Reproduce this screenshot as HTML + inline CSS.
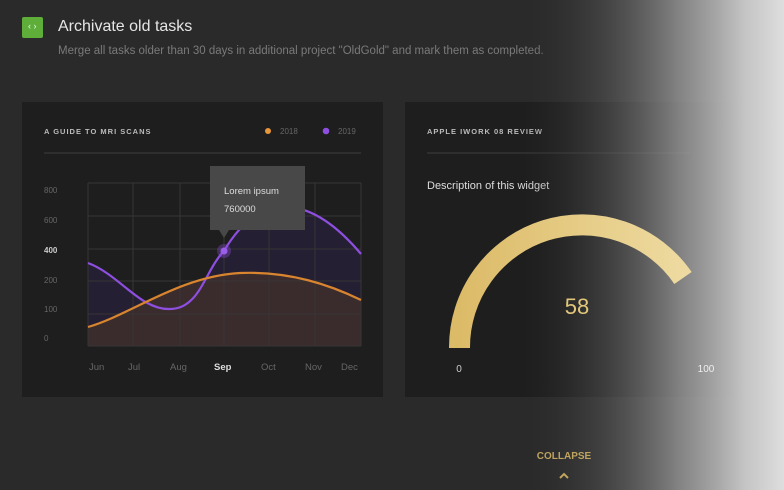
<!DOCTYPE html>
<html><head><meta charset="utf-8"><style>
body{margin:0;width:784px;height:490px;background:#2a2a2a;overflow:hidden;position:relative;font-family:"Liberation Sans",sans-serif}
.t{position:absolute;white-space:nowrap}
</style></head><body>
<div style="position:absolute;left:22px;top:17px;width:21px;height:21px;background:#5fae3a;border-radius:2px"></div>
<div class="t" style="left:28px;top:21px;color:#dfe;font-size:9px">‹ ›</div>
<div class="t" style="left:58px;top:18px;color:#e6e6e6;font-size:16px">Archivate old tasks</div>
<div class="t" style="left:58px;top:45px;color:#7a7a7a;font-size:11.5px">Merge all tasks older than 30 days in additional project "OldGold" and mark them as completed.</div>
<svg width="784" height="490" style="position:absolute;left:0;top:0">
<rect x="22" y="102" width="361" height="295" fill="#1e1e1e"/>
<rect x="405" y="102" width="379" height="295" fill="#1e1e1e"/>
<text x="44" y="134" fill="#bbb" font-size="7.5" font-weight="bold" letter-spacing="1">A GUIDE TO MRI SCANS</text>
<circle cx="268" cy="131" r="3" fill="#e8963a"/><text x="280" y="134" fill="#666" font-size="8">2018</text>
<circle cx="326" cy="131" r="3.3" fill="#8e4fe0"/><text x="338" y="134" fill="#666" font-size="8">2019</text>
<line x1="44" y1="153" x2="361" y2="153" stroke="#333" stroke-width="1.5"/>
<g fill="#666" font-size="8">
<text x="44" y="193">800</text><text x="44" y="223">600</text><text x="44" y="253" fill="#ccc" font-weight="bold">400</text><text x="44" y="283">200</text><text x="44" y="312">100</text><text x="44" y="341">0</text>
</g>
<path d="M88,263 C120,275 140,310 170,309 C200,309 205,270 224,251 C245,215 270,205 290,207 C320,210 345,235 361,254 L361,346 L88,346Z" fill="#251f33"/>
<path d="M88,327 C130,315 180,276 240,273 C290,271 330,285 361,300 L361,346 L88,346Z" fill="#3a2b2c"/>
<g stroke="#363636" stroke-width="1">
<line x1="88" y1="183" x2="361" y2="183"/><line x1="88" y1="216" x2="361" y2="216"/><line x1="88" y1="249" x2="361" y2="249"/><line x1="88" y1="281" x2="361" y2="281"/><line x1="88" y1="314" x2="361" y2="314"/><line x1="88" y1="346" x2="361" y2="346"/>
<line x1="88" y1="183" x2="88" y2="346"/><line x1="133" y1="183" x2="133" y2="346"/><line x1="180" y1="183" x2="180" y2="346"/><line x1="224" y1="183" x2="224" y2="346"/><line x1="269" y1="183" x2="269" y2="346"/><line x1="315" y1="183" x2="315" y2="346"/><line x1="361" y1="183" x2="361" y2="346"/>
</g>
<path d="M88,263 C120,275 140,310 170,309 C200,309 205,270 224,251 C245,215 270,205 290,207 C320,210 345,235 361,254" fill="none" stroke="#8e4fe0" stroke-width="2.2"/>
<path d="M88,327 C130,315 180,276 240,273 C290,271 330,285 361,300" fill="none" stroke="#d9842f" stroke-width="2.2"/>
<circle cx="224" cy="251" r="7" fill="#8e4fe0" opacity="0.35"/><circle cx="224" cy="251" r="3.5" fill="#9a5ee8"/>
<rect x="210" y="166" width="95" height="64" fill="#484848"/><path d="M219,230 L224,238 L229,230Z" fill="#484848"/>
<text x="224" y="194" fill="#ddd" font-size="9.5">Lorem ipsum</text><text x="224" y="212" fill="#ddd" font-size="9.5">760000</text>
<g fill="#666" font-size="9.5">
<text x="89" y="370">Jun</text><text x="128" y="370">Jul</text><text x="170" y="370">Aug</text><text x="214" y="370" fill="#ddd" font-weight="bold">Sep</text><text x="261" y="370">Oct</text><text x="305" y="370">Nov</text><text x="341" y="370">Dec</text>
</g>
<text x="427" y="134" fill="#bbb" font-size="7.5" font-weight="bold" letter-spacing="1">APPLE IWORK 08 REVIEW</text>
<line x1="427" y1="153" x2="690" y2="153" stroke="#333" stroke-width="1.5"/>
<text x="427" y="189" fill="#ddd" font-size="11">Description of this widget</text>
<defs><linearGradient id="g" x1="0" x2="1"><stop offset="0" stop-color="#dcbb68"/><stop offset="1" stop-color="#eedaa0"/></linearGradient>
<linearGradient id="w" x1="0" x2="1"><stop offset="0" stop-color="#2a2a2a" stop-opacity="0"/><stop offset="0.3" stop-color="#555" stop-opacity="0.5"/><stop offset="0.6" stop-color="#999" stop-opacity="0.8"/><stop offset="0.85" stop-color="#c4c4c4"/><stop offset="1" stop-color="#dedede"/></linearGradient></defs>
<rect x="520" y="0" width="264" height="490" fill="url(#w)"/>
<path d="M459.5,348 A122.5,122.5 0 0 1 683,278" fill="none" stroke="url(#g)" stroke-width="21"/>
<text x="577" y="314" fill="#e2c77a" font-size="22" text-anchor="middle">58</text>
<text x="459" y="372" fill="#ccc" font-size="10" text-anchor="middle">0</text>
<text x="706" y="372" fill="#eee" font-size="10" text-anchor="middle">100</text>
<text x="564" y="459" fill="#bfa35e" font-size="10" font-weight="bold" text-anchor="middle">COLLAPSE</text>
<path d="M560,478 L564,474 L568,478" fill="none" stroke="#bfa35e" stroke-width="2"/>
</svg>
</body></html>
